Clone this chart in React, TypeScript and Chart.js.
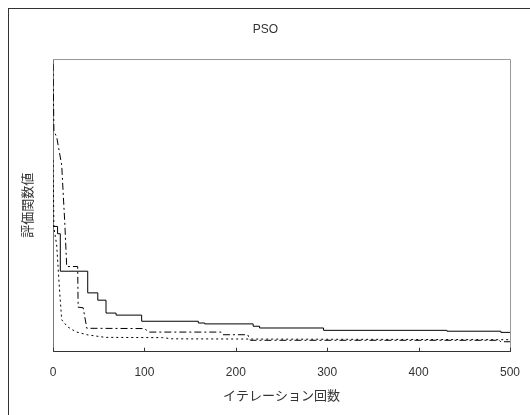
import React, { useEffect, useRef } from "react";
import { Chart, registerables } from "chart.js";

Chart.register(...registerables);

// ---- data ----
const chartTitle = "PSO";
const xTitle = "イテレーション回数";
const yTitle = "評価関数値";
const xTicks = [0, 100, 200, 300, 400, 500];

// solid line (stepped)
const solidIter = [0, 5, 8, 38, 49, 58, 69, 97, 159, 166, 219, 226, 296, 431, 490, 500];
const solidVal = [42.8, 40.3, 27.5, 20.1, 17.6, 13.2, 12.5, 10.4, 9.8, 9.5, 8.7, 8.1, 7.3, 7.0, 6.6, 6.6];

// dash-dot line
const dashDotIter = [0, 1, 4, 9.5, 13, 15, 27, 27.5, 33, 37, 100, 105, 184, 186, 213, 216, 488, 490, 500];
const dashDotVal = [98.3, 75.3, 73.4, 63.8, 43.3, 29.1, 29.1, 15.2, 15.0, 8.0, 7.9, 6.7, 6.7, 5.8, 5.8, 3.9, 3.9, 3.4, 3.4];

// dotted line
const dottedIter = [0, 1, 4, 7, 9.5, 16, 25, 37, 57, 120, 130, 240, 500];
const dottedVal = [65.5, 42.3, 36.5, 21.8, 10.9, 8.5, 6.8, 5.8, 4.9, 4.8, 4.4, 4.3, 4.1];

const seriesNames = ["試行1", "試行2", "試行3"];

const toPoints = (xs: number[], ys: number[]) => xs.map((x, i) => ({ x, y: ys[i] }));

const FONT = "'Liberation Sans', Arial, 'Noto Sans CJK JP', sans-serif";
const TEXT = "#333";

const framePlugin = {
  id: "frame",
  beforeDatasetsDraw(chart: any) {
    const { ctx, chartArea } = chart;
    ctx.save();
    ctx.strokeStyle = "#999";
    ctx.lineWidth = 1;
    ctx.beginPath();
    ctx.moveTo(chartArea.left, Math.round(chartArea.top) + 0.5);
    ctx.lineTo(Math.round(chartArea.right) + 0.5, Math.round(chartArea.top) + 0.5);
    ctx.lineTo(Math.round(chartArea.right) + 0.5, chartArea.bottom);
    ctx.stroke();
    ctx.restore();
  },
  afterDraw(chart: any) {
    const { ctx, chartArea } = chart;
    const xs = chart.scales.x;
    ctx.save();
    ctx.strokeStyle = "#333";
    ctx.lineWidth = 1;
    ctx.beginPath();
    xTicks.forEach((v) => {
      const px = Math.round(xs.getPixelForValue(v)) + 0.5;
      ctx.moveTo(px, chartArea.bottom);
      ctx.lineTo(px, chartArea.bottom - 4);
    });
    ctx.stroke();
    ctx.restore();
  },
};

export default function App() {
  const ref = useRef<HTMLCanvasElement | null>(null);

  useEffect(() => {
    if (!ref.current) return;
    const chart = new Chart(ref.current, {
      type: "line",
      data: {
        datasets: [
          {
            label: seriesNames[0],
            data: toPoints(solidIter, solidVal),
            borderColor: "#000",
            borderWidth: 1,
            stepped: "before",
            pointRadius: 0,
            fill: false,
          },
          {
            label: seriesNames[1],
            data: toPoints(dashDotIter, dashDotVal),
            borderColor: "#000",
            borderWidth: 1,
            borderDash: [7, 3, 2, 3],
            pointRadius: 0,
            fill: false,
          },
          {
            label: seriesNames[2],
            data: toPoints(dottedIter, dottedVal),
            borderColor: "#000",
            borderWidth: 1,
            borderDash: [2, 3],
            pointRadius: 0,
            fill: false,
          },
        ],
      },
      options: {
        animation: false,
        responsive: false,
        devicePixelRatio: 1,
        events: [],
        layout: { autoPadding: false, padding: { left: 21, right: 20, top: 10, bottom: 7 } },
        elements: { line: { tension: 0 }, point: { radius: 0, hoverRadius: 0 } },
        plugins: {
          legend: { display: false },
          tooltip: { enabled: false },
          title: {
            display: true,
            text: chartTitle,
            color: TEXT,
            font: { family: FONT, size: 12, weight: "normal" },
            padding: { top: 12.8, bottom: 21.8 },
          },
        },
        scales: {
          x: {
            type: "linear",
            min: 0,
            max: 500,
            afterBuildTicks: (scale: any) => {
              scale.ticks = xTicks.map((v) => ({ value: v }));
            },
            afterFit: (scale: any) => {
              scale.paddingLeft = 0;
              scale.paddingRight = 0;
            },
            ticks: { color: TEXT, font: { family: FONT, size: 12 }, padding: 13.3, maxRotation: 0 },
            grid: { display: false, drawTicks: false },
            border: { display: true, color: "#333", width: 1 },
            title: {
              display: true,
              text: xTitle,
              color: TEXT,
              font: { family: FONT, size: 13 },
              padding: { top: -4.3, bottom: 4 },
            },
          },
          y: {
            type: "linear",
            min: 0,
            max: 100,
            ticks: { display: false },
            grid: { display: false, drawTicks: false },
            border: { display: true, color: "#777", width: 1 },
            title: {
              display: true,
              text: yTitle,
              color: TEXT,
              font: { family: FONT, size: 13 },
              padding: { top: -0.8, bottom: 17.2 },
            },
          },
        },
      },
      plugins: [framePlugin],
    });
    return () => chart.destroy();
  }, []);

  return (
    <div style={{ position: "fixed", left: 0, top: 0, width: 530, height: 415, overflow: "hidden", background: "#fff" }}>
      <canvas ref={ref} width={530} height={415} style={{ display: "block" }} />
      <div
        style={{
          position: "absolute",
          left: 8,
          top: 8,
          width: 600,
          height: 600,
          border: "1px solid #333",
          pointerEvents: "none",
        }}
      />
    </div>
  );
}
